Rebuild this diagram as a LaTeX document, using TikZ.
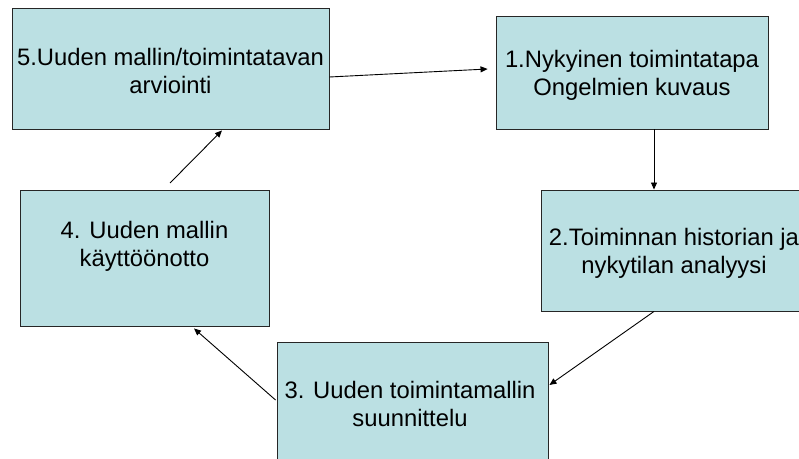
\documentclass[tikz,border=0pt]{standalone}
\usepackage{fontspec}
\setmainfont{Liberation Sans}
\usetikzlibrary{arrows.meta,calc}
\definecolor{boxfill}{RGB}{187,224,227}
\begin{document}
\begin{tikzpicture}[x=1bp,y=-1bp,
  box/.style={draw=black!85,line width=0.9bp,fill=boxfill,rectangle,inner sep=0},
  lbl/.style={align=center,font=\fontsize{23.8bp}{28bp}\selectfont,inner sep=0},
  conn/.style={line width=0.9bp,-{Triangle[length=7bp,width=6bp]}}]
\useasboundingbox (0,0) rectangle (799,459);
\clip (0,0) rectangle (799,459);
% boxes
\node[box,minimum width=317bp,minimum height=121bp] (b5) at (170.5,68.5) {};
\node[box,minimum width=272bp,minimum height=113bp] (b1) at (632,72.5) {};
\node[box,minimum width=266bp,minimum height=121bp] (b2) at (674,250.5) {};
\node[box,minimum width=249bp,minimum height=136bp] (b4) at (144.5,258) {};
\node[box,minimum width=271bp,minimum height=120bp] (b3) at (412.5,402) {};
% labels
\node[lbl] (t5) at (170.5,71) {5.Uuden mallin/toimintatavan\\arviointi};
\node[lbl] (t1) at (632,75.5) {1.Nykyinen toimintatapa\\Ongelmien kuvaus};
\node[lbl] (t2) at (674,253) {2.Toiminnan historian ja\\nykytilan analyysi};
\node[lbl] (t4) at (144.5,246) {4. Uuden mallin\\käyttöönotto};
\node[lbl] (t3) at (410,404) {3. Uuden toimintamallin\\suunnittelu};
% connectors
\coordinate (a45) at (170,183);
\draw[conn] ($(b5.east)+(0,8.5)$) -- ($(b1.west)+(-8,-3.5)$);
\draw[conn] ($(b1.south)+(22,0)$) -- ($(b2.north)+(-20,0)$);
\draw[conn] ($(b2.south)+(-20,0)$) -- ($(b3.east)+(1,-17)$);
\draw[conn] ($(b3.west)+(-1,-2)$) -- ($(b4.south)+(49.5,2)$);
\draw[conn] (a45) -- ($(b5.south)+(51.5,1)$);
\end{tikzpicture}
\end{document}
